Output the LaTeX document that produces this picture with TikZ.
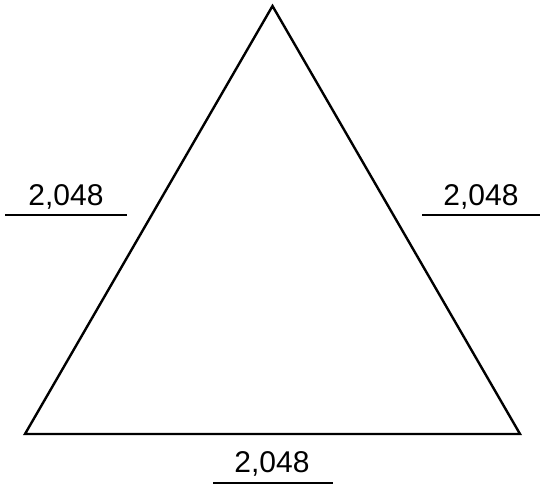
\documentclass[tikz,border=0pt]{standalone}
\usepackage{fontspec}
\setmainfont{Liberation Sans}
\begin{document}
\begin{tikzpicture}[x=1pt,y=1pt,
  edge/.style={line width=2.4pt, line join=miter},
  rule/.style={line width=2.6pt},
  lbl/.style={anchor=base, inner sep=0pt, font=\fontsize{30}{33}\selectfont}]
\useasboundingbox (0,0) rectangle (540,486);
\coordinate (A) at (272.5,480);
\coordinate (B) at (25,52);
\coordinate (C) at (520,52);
\draw[edge] (A) -- (B) -- (C) -- cycle;
\node[lbl] (l1) at (66,280) {2,048};
\node[lbl] (l2) at (481,280) {2,048};
\node[lbl] (l3) at (272,13) {2,048};
\coordinate (u1a) at (5,271); \coordinate (u1b) at (127,271);
\coordinate (u2a) at (422,271); \coordinate (u2b) at (540,271);
\coordinate (u3a) at (213,3); \coordinate (u3b) at (333,3);
\draw[rule] (u1a) -- (u1b);
\draw[rule] (u2a) -- (u2b);
\draw[rule] (u3a) -- (u3b);
\end{tikzpicture}
\end{document}
